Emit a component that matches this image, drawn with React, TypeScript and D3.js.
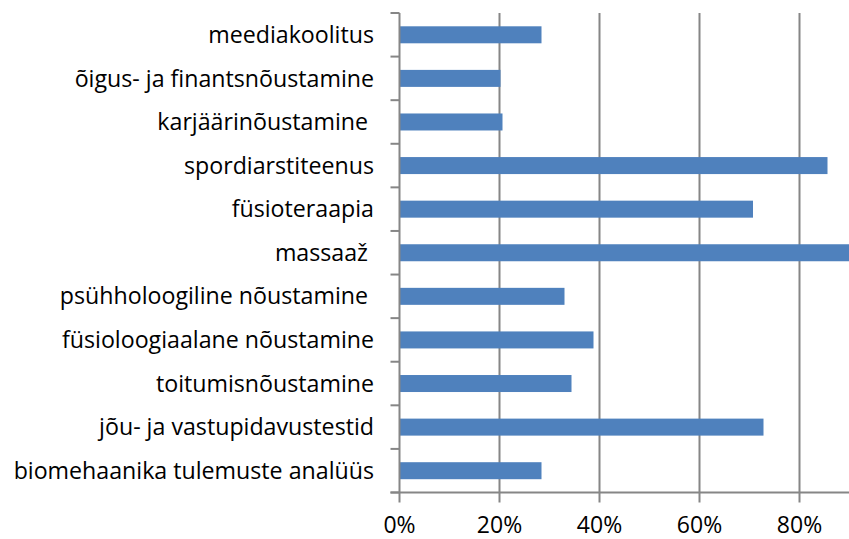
import React, { useEffect, useRef } from 'react';
import * as d3 from 'd3';

const categories = [
  'meediakoolitus',
  'õigus- ja finantsnõustamine',
  'karjäärinõustamine ',
  'spordiarstiteenus',
  'füsioteraapia',
  'massaaž ',
  'psühholoogiline nõustamine ',
  'füsioloogiaalane nõustamine',
  'toitumisnõustamine',
  'jõu- ja vastupidavustestid',
  'biomehaanika tulemuste analüüs',
];

const values = [0.284, 0.202, 0.206, 0.856, 0.707, 0.93, 0.33, 0.388, 0.344, 0.728, 0.284];

const xTicks = [0, 0.2, 0.4, 0.6, 0.8];

const WIDTH = 849;
const HEIGHT = 539;

const App: React.FC = () => {
  const svgRef = useRef<SVGSVGElement>(null);

  useEffect(() => {
    if (!svgRef.current) return;
    const svg = d3.select(svgRef.current);
    svg.selectAll('*').remove();

    const margin = { top: 13, left: 399.5, bottom: 492.5 };
    const axisColor = '#868686';
    const font = '"Open Sans", sans-serif';

    const x = d3.scaleLinear().domain([0, 1]).range([margin.left, margin.left + 500]);
    const y = d3.scaleBand<string>()
      .domain(categories)
      .range([margin.top, margin.bottom])
      .paddingInner(0.61)
      .paddingOuter(0.305);

    // gridlines
    svg.append('g')
      .selectAll('line')
      .data(xTicks.slice(1))
      .join('line')
      .attr('x1', d => Math.round(x(d)) - 0.5)
      .attr('x2', d => Math.round(x(d)) - 0.5)
      .attr('y1', margin.top)
      .attr('y2', margin.bottom)
      .attr('stroke', axisColor)
      .attr('stroke-width', 2);

    // bars
    svg.append('g')
      .selectAll('rect')
      .data(categories)
      .join('rect')
      .attr('x', margin.left)
      .attr('y', d => y(d)!)
      .attr('width', (_, i) => x(values[i]) - margin.left)
      .attr('height', y.bandwidth())
      .attr('fill', '#4F81BD');

    // y axis
    const step = (margin.bottom - margin.top) / categories.length;
    const yAxis = svg.append('g');
    yAxis.append('line')
      .attr('x1', margin.left).attr('x2', margin.left)
      .attr('y1', margin.top).attr('y2', margin.bottom)
      .attr('stroke', axisColor).attr('stroke-width', 2);
    yAxis.selectAll('line.tick')
      .data(d3.range(categories.length + 1))
      .join('line')
      .attr('class', 'tick')
      .attr('x1', margin.left - 9).attr('x2', margin.left)
      .attr('y1', i => margin.top + i * step)
      .attr('y2', i => margin.top + i * step)
      .attr('stroke', axisColor).attr('stroke-width', 2);
    yAxis.selectAll('text')
      .data(categories)
      .join('text')
      .attr('x', 374)
      .attr('y', d => y(d)! + y.bandwidth() / 2)
      .attr('dy', '0.35em')
      .attr('text-anchor', 'end')
      .attr('font-family', font)
      .attr('font-size', 23.2)
      .attr('fill', '#000')
      .style('white-space', 'pre')
      .text(d => d);

    // x axis
    const xAxis = svg.append('g');
    xAxis.append('line')
      .attr('x1', margin.left - 9).attr('x2', WIDTH)
      .attr('y1', margin.bottom).attr('y2', margin.bottom)
      .attr('stroke', axisColor).attr('stroke-width', 2);
    xAxis.selectAll('line.tick')
      .data(xTicks)
      .join('line')
      .attr('class', 'tick')
      .attr('x1', d => Math.round(x(d)) - 0.5)
      .attr('x2', d => Math.round(x(d)) - 0.5)
      .attr('y1', margin.bottom).attr('y2', margin.bottom + 10)
      .attr('stroke', axisColor).attr('stroke-width', 2);
    xAxis.selectAll('text')
      .data(xTicks)
      .join('text')
      .attr('x', d => x(d))
      .attr('y', 533)
      .attr('text-anchor', 'middle')
      .attr('font-family', font)
      .attr('font-size', 23)
      .attr('fill', '#000')
      .text(d => d3.format('.0%')(d));
  }, []);

  return (
    <svg
      ref={svgRef}
      width={WIDTH}
      height={HEIGHT}
      style={{ position: 'absolute', left: 0, top: 0, background: '#fff' }}
    />
  );
};

export default App;
